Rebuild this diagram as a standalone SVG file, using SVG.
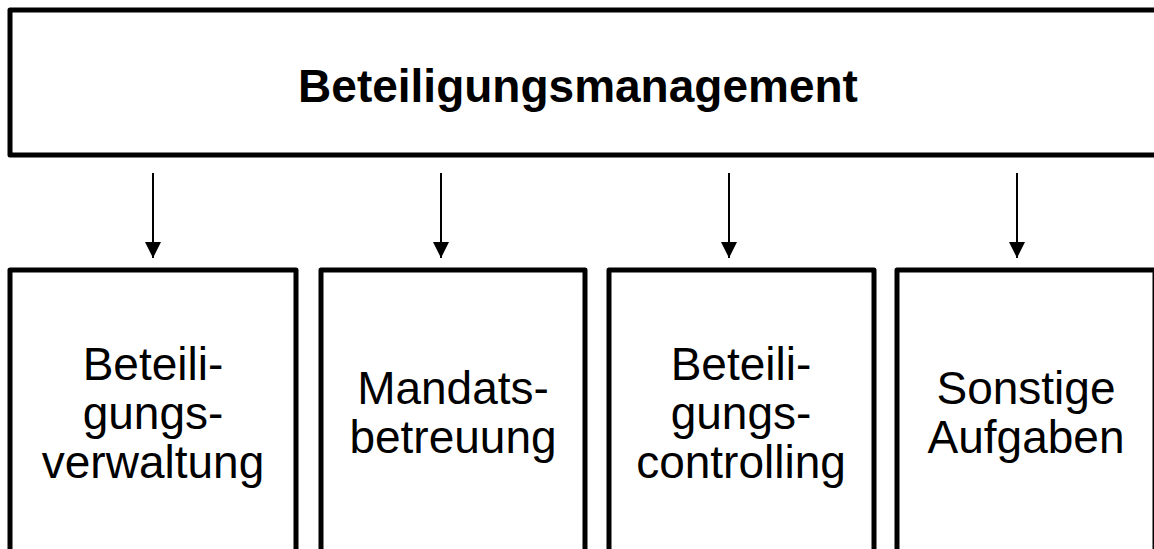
<svg xmlns="http://www.w3.org/2000/svg" width="1154" height="549" viewBox="0 0 1154 549">
<defs>
<style>
.box{fill:#fff;stroke:#000;stroke-width:5;stroke-linejoin:round}
.t{font-family:"Liberation Sans",Arial,sans-serif;font-size:46px;fill:#000;text-anchor:middle}
.h{font-weight:bold}
.c{stroke:#000;stroke-width:2;fill:none}
</style>
<marker id="ah" markerWidth="16" markerHeight="16" refX="16" refY="8" orient="auto" markerUnits="userSpaceOnUse" viewBox="0 0 16 16">
<path d="M0,0 L16,8 L0,16 Z" fill="#000"/>
</marker>
</defs>
<g id="top">
<rect class="box" x="10" y="10" width="1152" height="145"/>
<text class="t h" x="578" y="102">Beteiligungsmanagement</text>
</g>
<g id="connectors">
<line class="c" x1="153" y1="173" x2="153" y2="258" marker-end="url(#ah)"/>
<line class="c" x1="441" y1="173" x2="441" y2="258" marker-end="url(#ah)"/>
<line class="c" x1="729" y1="173" x2="729" y2="258" marker-end="url(#ah)"/>
<line class="c" x1="1017" y1="173" x2="1017" y2="258" marker-end="url(#ah)"/>
</g>
<g id="n1">
<rect class="box" x="10" y="270" width="286" height="290"/>
<text class="t" x="153" y="380">Beteili-</text>
<text class="t" x="153" y="429">gungs-</text>
<text class="t" x="153" y="478">verwaltung</text>
</g>
<g id="n2">
<rect class="box" x="321" y="270" width="264" height="290"/>
<text class="t" x="453" y="404">Mandats-</text>
<text class="t" x="453" y="453">betreuung</text>
</g>
<g id="n3">
<rect class="box" x="609" y="270" width="265" height="290"/>
<text class="t" x="741" y="380">Beteili-</text>
<text class="t" x="741" y="429">gungs-</text>
<text class="t" x="741" y="478">controlling</text>
</g>
<g id="n4">
<rect class="box" x="897" y="270" width="258" height="290"/>
<text class="t" x="1026" y="404">Sonstige</text>
<text class="t" x="1026" y="453">Aufgaben</text>
</g>
</svg>
